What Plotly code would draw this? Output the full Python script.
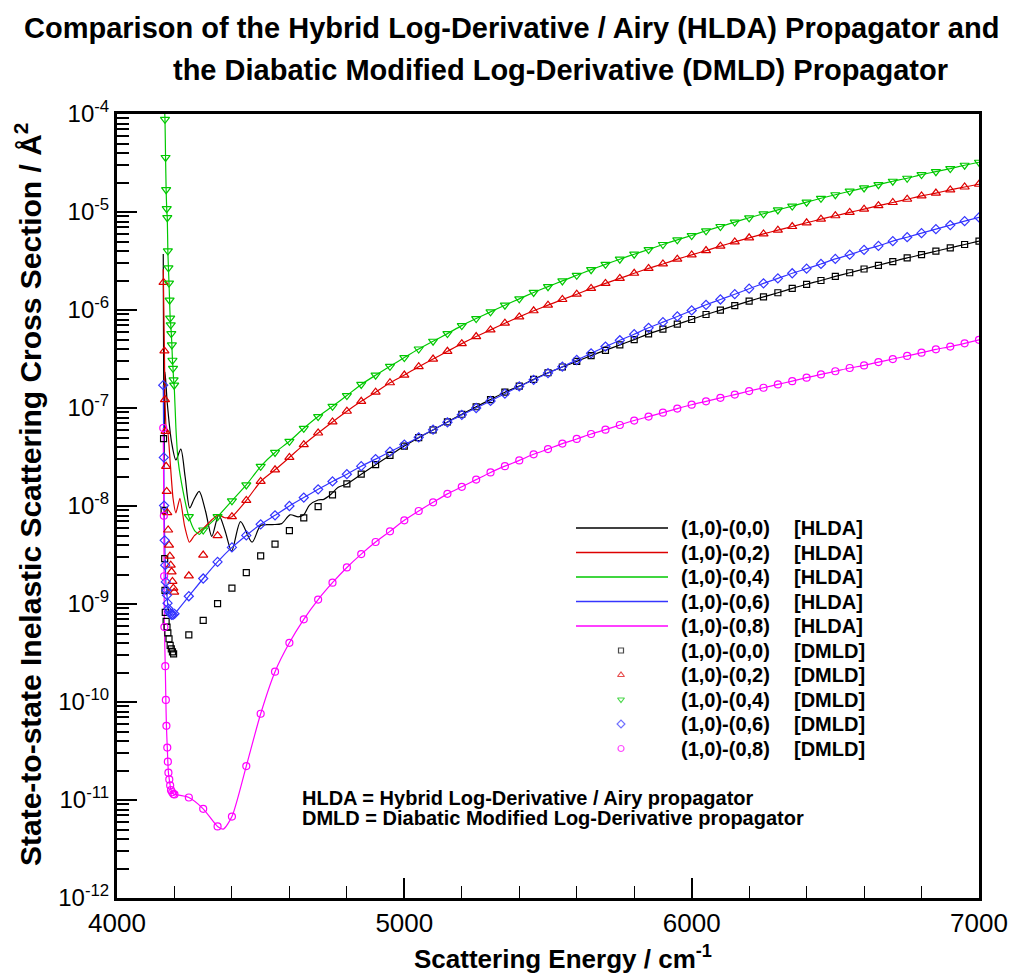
import plotly.graph_objects as go

# ---------------------------------------------------------------
# Cross sections (Angstrom^2) versus scattering energy (cm^-1)
# ---------------------------------------------------------------
# Regular DMLD energy grid, 4250 ... 7000 cm^-1 in 50 cm^-1 steps
E_GRID = list(range(4250, 7001, 50))

# (1,0)-(0,0)
E_NEAR_00 = [4162, 4164, 4166, 4167, 4168, 4171, 4174, 4177, 4181, 4185, 4189, 4193, 4197]
DMLD_NEAR_00 = [4.86e-8, 9.02e-9, 2.91e-9, 1.38e-9, 8.22e-10, 6.65e-10, 5.81e-10, 5.08e-10,
                4.42e-10, 3.78e-10, 3.48e-10, 3.24e-10, 3.10e-10]
DMLD_00 = [4.84e-10, 6.81e-10, 1.01e-9, 1.45e-9, 2.09e-9, 3.10e-9, 4.09e-9, 5.60e-9, 7.55e-9,
           9.86e-9, 1.30e-8, 1.68e-8, 2.11e-8, 2.64e-8, 3.28e-8,
           4.09e-8, 4.98e-8, 5.97e-8, 7.21e-8, 8.63e-8, 1.03e-7, 1.22e-7, 1.45e-7, 1.67e-7, 1.96e-7,
           2.29e-7, 2.62e-7, 2.99e-7, 3.42e-7, 3.88e-7, 4.40e-7, 4.99e-7, 5.70e-7, 6.37e-7, 7.16e-7,
           8.00e-7, 9.00e-7, 9.98e-7, 1.11e-6, 1.23e-6, 1.36e-6, 1.50e-6, 1.66e-6, 1.83e-6, 2.00e-6,
           2.20e-6, 2.40e-6, 2.62e-6, 2.86e-6, 3.12e-6, 3.40e-6, 3.67e-6, 3.98e-6, 4.31e-6, 4.66e-6,
           5.04e-6]
E_HLDA_00 = [4161, 4164, 4167, 4175, 4190, 4205, 4222, 4237, 4253, 4268, 4286, 4308, 4330, 4354,
             4376, 4399, 4430, 4470, 4500, 4540, 4573, 4602, 4631, 4650, 4670, 4700, 4720, 4745, 4770]
HLDA_00 = [3.72e-6, 2.5e-8, 2.34e-7, 1.12e-7, 4.47e-8, 2.95e-8, 3.80e-8, 2.0e-8, 9.55e-9, 1.17e-8,
           1.41e-8, 8.9e-9, 4.9e-9, 8.13e-9, 5.6e-9, 3.47e-9, 6.92e-9, 4.27e-9, 6.31e-9, 6.46e-9,
           6.61e-9, 8.13e-9, 7.76e-9, 8.13e-9, 1.02e-8, 1.15e-8, 1.17e-8, 1.32e-8, 1.55e-8]

# (1,0)-(0,2)
E_NEAR_02 = [4162, 4165, 4167, 4169, 4171, 4173, 4175, 4178, 4181, 4184, 4187, 4190, 4193, 4196, 4199]
DMLD_NEAR_02 = [1.91e-6, 3.82e-7, 1.22e-7, 5.78e-8, 2.54e-8, 1.41e-8, 8.55e-9, 5.69e-9, 3.99e-9,
                3.08e-9, 2.49e-9, 2.13e-9, 1.70e-9, 1.45e-9, 1.32e-9]
DMLD_02 = [1.94e-9, 3.16e-9, 4.98e-9, 7.78e-9, 1.14e-8, 1.78e-8, 2.34e-8, 3.13e-8, 4.23e-8,
           5.56e-8, 7.21e-8, 9.27e-8, 1.17e-7, 1.45e-7, 1.81e-7,
           2.17e-7, 2.64e-7, 3.16e-7, 3.79e-7, 4.54e-7, 5.36e-7, 6.27e-7, 7.33e-7, 8.51e-7, 9.82e-7,
           1.12e-6, 1.28e-6, 1.45e-6, 1.66e-6, 1.87e-6, 2.10e-6, 2.37e-6, 2.66e-6, 2.95e-6, 3.30e-6,
           3.65e-6, 4.04e-6, 4.48e-6, 4.95e-6, 5.45e-6, 5.98e-6, 6.53e-6, 7.11e-6, 7.76e-6, 8.45e-6,
           9.16e-6, 9.91e-6, 1.07e-5, 1.16e-5, 1.25e-5, 1.35e-5, 1.46e-5, 1.56e-5, 1.68e-5, 1.80e-5,
           1.92e-5]
E_HLDA_02 = [4161, 4165, 4167, 4169, 4172, 4176, 4185, 4195, 4205, 4219, 4235, 4252, 4270, 4300,
             4330, 4352, 4375]
HLDA_02 = [2.6e-6, 3.82e-7, 1.22e-7, 7.94e-8, 5.62e-8, 6.03e-8, 2.82e-8, 1.20e-8, 8.51e-9, 1.20e-8,
           6.31e-9, 4.27e-9, 5.01e-9, 5.89e-9, 7.24e-9, 8.13e-9, 7.59e-9]

# (1,0)-(0,4)
E_NEAR_04 = [4167, 4169, 4171, 4173, 4175, 4177, 4179, 4181, 4183, 4185, 4187, 4189, 4191, 4193,
             4195, 4197, 4199]
DMLD_NEAR_04 = [8.83e-5, 3.60e-5, 1.69e-5, 1.08e-5, 8.75e-6, 4.01e-6, 2.69e-6, 1.88e-6, 1.26e-6,
                8.26e-7, 7.05e-7, 5.74e-7, 4.40e-7, 3.07e-7, 2.54e-7, 1.94e-7, 1.71e-7]
DMLD_04 = [7.78e-9, 5.69e-9, 7.78e-9, 1.13e-8, 1.64e-8, 2.54e-8, 3.52e-8, 4.57e-8, 6.21e-8,
           8.18e-8, 1.04e-7, 1.34e-7, 1.74e-7, 2.16e-7, 2.66e-7,
           3.27e-7, 4.00e-7, 4.80e-7, 5.74e-7, 6.93e-7, 8.18e-7, 9.57e-7, 1.12e-6, 1.30e-6, 1.51e-6,
           1.73e-6, 1.98e-6, 2.26e-6, 2.58e-6, 2.92e-6, 3.30e-6, 3.71e-6, 4.14e-6, 4.66e-6, 5.20e-6,
           5.75e-6, 6.43e-6, 7.11e-6, 7.89e-6, 8.73e-6, 9.59e-6, 1.05e-5, 1.15e-5, 1.26e-5, 1.38e-5,
           1.50e-5, 1.63e-5, 1.76e-5, 1.90e-5, 2.06e-5, 2.21e-5, 2.41e-5, 2.58e-5, 2.77e-5, 3.00e-5,
           3.22e-5]
E_HLDA_04 = [4165, 4205, 4213, 4230, 4270, 4287]
HLDA_04 = [1.2e-4, 6.3e-8, 2.85e-8, 1.41e-8, 5.62e-9, 5.13e-9]

# (1,0)-(0,6)
E_NEAR_06 = [4161, 4163, 4164, 4166, 4168, 4170, 4172, 4174, 4176, 4179, 4182, 4186, 4190, 4195, 4200]
DMLD_NEAR_06 = [1.71e-7, 3.13e-8, 1.01e-8, 4.46e-9, 2.49e-9, 1.68e-9, 1.38e-9, 1.23e-9, 1.02e-9,
                8.95e-10, 8.32e-10, 7.94e-10, 7.76e-10, 7.76e-10, 7.94e-10]
DMLD_06 = [1.20e-9, 1.82e-9, 2.69e-9, 3.78e-9, 5.01e-9, 6.50e-9, 8.04e-9, 1.00e-8, 1.22e-8,
           1.48e-8, 1.78e-8, 2.11e-8, 2.55e-8, 3.01e-8, 3.58e-8,
           4.23e-8, 5.02e-8, 6.01e-8, 7.14e-8, 8.51e-8, 1.00e-7, 1.18e-7, 1.40e-7, 1.66e-7, 1.94e-7,
           2.27e-7, 2.64e-7, 3.09e-7, 3.61e-7, 4.23e-7, 4.91e-7, 5.66e-7, 6.58e-7, 7.52e-7, 8.59e-7,
           9.89e-7, 1.13e-6, 1.28e-6, 1.45e-6, 1.65e-6, 1.87e-6, 2.10e-6, 2.37e-6, 2.64e-6, 2.95e-6,
           3.32e-6, 3.67e-6, 4.10e-6, 4.51e-6, 5.04e-6, 5.53e-6, 6.08e-6, 6.68e-6, 7.35e-6, 8.07e-6,
           8.81e-6]
E_HLDA_06 = []
HLDA_06 = []

# (1,0)-(0,8)
E_NEAR_08 = [4161, 4163, 4164, 4165, 4168, 4170, 4172, 4175, 4177, 4179, 4182, 4185, 4188, 4192,
             4196, 4200]
DMLD_NEAR_08 = [6.25e-8, 7.94e-9, 1.92e-9, 5.81e-10, 2.32e-10, 1.05e-10, 5.71e-11, 3.43e-11,
                2.46e-11, 1.90e-11, 1.62e-11, 1.41e-11, 1.26e-11, 1.20e-11, 1.15e-11, 1.14e-11]
DMLD_08 = [1.06e-11, 8.13e-12, 5.37e-12, 6.78e-12, 2.22e-11, 7.59e-11, 2.04e-10, 4.02e-10, 6.97e-10,
           1.11e-9, 1.65e-9, 2.36e-9, 3.23e-9, 4.29e-9, 5.51e-9,
           7.14e-9, 8.89e-9, 1.09e-8, 1.33e-8, 1.57e-8, 1.86e-8, 2.20e-8, 2.55e-8, 2.92e-8, 3.37e-8,
           3.81e-8, 4.33e-8, 4.83e-8, 5.43e-8, 6.01e-8, 6.71e-8, 7.45e-8, 8.17e-8, 8.97e-8, 9.86e-8,
           1.08e-7, 1.17e-7, 1.27e-7, 1.37e-7, 1.49e-7, 1.61e-7, 1.74e-7, 1.88e-7, 2.04e-7, 2.20e-7,
           2.37e-7, 2.56e-7, 2.72e-7, 2.94e-7, 3.16e-7, 3.40e-7, 3.67e-7, 3.97e-7, 4.23e-7, 4.57e-7,
           4.96e-7]
E_HLDA_08 = [4370]
HLDA_08 = [5.05e-12]

LABELS = ["(1,0)-(0,0)", "(1,0)-(0,2)", "(1,0)-(0,4)", "(1,0)-(0,6)", "(1,0)-(0,8)"]
COLORS = ["#000000", "#dd0000", "#00c800", "#3535ff", "#ff00ff"]
SYMBOLS = ["square-open", "triangle-up-open", "triangle-down-open", "diamond-open", "circle-open"]
SIZES = [6, 8, 8, 7, 7]
SMOOTH = [0.8, 0.5, 0.5, 0.5, 0.7]


def combine(*parts):
    pts = sorted(p for es, ss in parts for p in zip(es, ss))
    return [p[0] for p in pts], [p[1] for p in pts]


def grid_from(values, e_start):
    i = E_GRID.index(e_start)
    return E_GRID[i:], values[i:]


# HLDA curves: own low-energy values, joined to the common curve above
hlda = [
    combine((E_HLDA_00, HLDA_00), grid_from(DMLD_00, 4800)),
    combine((E_HLDA_02, HLDA_02), grid_from(DMLD_02, 4400)),
    combine((E_HLDA_04, HLDA_04), (E_NEAR_04, DMLD_NEAR_04), (E_GRID, DMLD_04)),
    combine((E_HLDA_06, HLDA_06), (E_NEAR_06, DMLD_NEAR_06), (E_GRID, DMLD_06)),
    combine((E_HLDA_08, HLDA_08), (E_NEAR_08, DMLD_NEAR_08), (E_GRID, DMLD_08)),
]
dmld = [
    combine((E_NEAR_00, DMLD_NEAR_00), (E_GRID, DMLD_00)),
    combine((E_NEAR_02, DMLD_NEAR_02), (E_GRID, DMLD_02)),
    combine((E_NEAR_04, DMLD_NEAR_04), (E_GRID, DMLD_04)),
    combine((E_NEAR_06, DMLD_NEAR_06), (E_GRID, DMLD_06)),
    combine((E_NEAR_08, DMLD_NEAR_08), (E_GRID, DMLD_08)),
]

# ---------------------------------------------------------------
# Page geometry
# ---------------------------------------------------------------
W, H = 1019, 973
ML, MR, MT, MB = 117, 40, 114, 75
PW, PH = W - ML - MR, H - MT - MB


def xp(px):
    return (px - ML) / PW


def yp(py):
    return (H - MB - py) / PH


SANS = "Liberation Sans, Arial, sans-serif"

fig = go.Figure()

for (ex, sy), col, sm in zip(hlda, COLORS, SMOOTH):
    fig.add_trace(go.Scatter(
        x=ex, y=sy, mode="lines", showlegend=False, hoverinfo="skip",
        line=dict(color=col, width=1.2, shape="spline", smoothing=sm)))

for (ex, sy), col, sym, sz in zip(dmld, COLORS, SYMBOLS, SIZES):
    fig.add_trace(go.Scatter(
        x=ex, y=sy, mode="markers", showlegend=False,
        marker=dict(symbol=sym, size=sz, color=col, line=dict(width=1.2, color=col))))

# ---------------------------------------------------------------
# Hand-built legend (long line samples, two text columns)
# ---------------------------------------------------------------
ROW0, DROW = 528, 24.5
LINE_X0, LINE_X1, SYM_X = 576, 668, 621
TXT1_X, TXT2_X = 679, 792
shapes = []
annotations = []
sym_x, sym_y = [], []
for k in range(10):
    row_y = yp(ROW0 + DROW * k)
    j = k % 5
    if k < 5:
        shapes.append(dict(type="line", xref="paper", yref="paper",
                           x0=xp(LINE_X0), x1=xp(LINE_X1), y0=row_y, y1=row_y,
                           line=dict(color=COLORS[j], width=1.5)))
        tag = "[HLDA]"
    else:
        sym_x.append(xp(SYM_X))
        sym_y.append(row_y)
        tag = "[DMLD]"
    annotations.append(dict(x=xp(TXT1_X), y=row_y, xref="paper", yref="paper",
                            text="<b>%s</b>" % LABELS[j], showarrow=False,
                            xanchor="left", yanchor="middle",
                            font=dict(family=SANS, size=20, color="black")))
    annotations.append(dict(x=xp(TXT2_X), y=row_y, xref="paper", yref="paper",
                            text="<b>%s</b>" % tag, showarrow=False,
                            xanchor="left", yanchor="middle",
                            font=dict(family=SANS, size=20, color="black")))

fig.add_trace(go.Scatter(
    x=sym_x, y=sym_y, xaxis="x2", yaxis="y2", mode="markers", showlegend=False,
    hoverinfo="skip",
    marker=dict(symbol=SYMBOLS, size=[5, 6, 6, 6, 6], color=COLORS,
                line=dict(width=1.2, color=COLORS))))

# Titles and notes
annotations += [
    dict(x=xp(511), y=yp(28), text="<b>Comparison of the Hybrid Log-Derivative / Airy (HLDA) Propagator and</b>",
         font=dict(family=SANS, size=29, color="black")),
    dict(x=xp(560), y=yp(70), text="<b>the Diabatic Modified Log-Derivative (DMLD) Propagator</b>",
         font=dict(family=SANS, size=29, color="black")),
    dict(x=xp(563), y=yp(958), text="<b>Scattering Energy / cm<sup>-1</sup></b>",
         font=dict(family=SANS, size=26, color="black")),
    dict(x=xp(28), y=yp(494), text="<b>State-to-state Inelastic Scattering Cross Section / Å<sup>2</sup></b>",
         textangle=-90, font=dict(family=SANS, size=30, color="black")),
]
for a in annotations[-4:]:
    a.update(xref="paper", yref="paper", showarrow=False, xanchor="center", yanchor="middle")

annotations += [
    dict(x=xp(300), y=yp(798), text="<b>HLDA = Hybrid Log-Derivative / Airy propagator</b>"),
    dict(x=xp(300), y=yp(818), text="<b>DMLD = Diabatic Modified Log-Derivative propagator</b>"),
]
for a in annotations[-2:]:
    a.update(xref="paper", yref="paper", showarrow=False, xanchor="left", yanchor="middle",
             font=dict(family=SANS, size=20, color="black"))

DECADES = list(range(-12, -3))
Y_TICKS = [10.0 ** d for d in DECADES]
Y_TEXT = ["10<sup>%d</sup>" % d for d in DECADES]
Y_MINOR = [m * 10.0 ** d for d in DECADES[:-1] for m in range(2, 10)]

fig.update_layout(
    width=W, height=H,
    margin=dict(l=ML, r=MR, t=MT, b=MB),
    paper_bgcolor="white", plot_bgcolor="white",
    showlegend=False,
    shapes=shapes,
    annotations=annotations,
    xaxis=dict(range=[4000, 7000], tickmode="linear", tick0=4000, dtick=1000,
               ticks="inside", ticklen=20, tickwidth=1.5, tickcolor="black",
               minor=dict(tickmode="linear", tick0=4000, dtick=200, ticks="inside",
                          ticklen=12, tickwidth=1, tickcolor="black", showgrid=False),
               showline=True, mirror=True, linewidth=3, linecolor="black",
               showgrid=False, zeroline=False,
               tickfont=dict(family=SANS, size=26, color="black")),
    yaxis=dict(type="log", range=[-12, -4], tickmode="array", tickvals=Y_TICKS, ticktext=Y_TEXT,
               ticks="inside", ticklen=20, tickwidth=2, tickcolor="black",
               minor=dict(tickmode="array", tickvals=Y_MINOR, ticks="inside", ticklen=12,
                          tickwidth=1.5, tickcolor="black", showgrid=False),
               showline=True, mirror=True, linewidth=3, linecolor="black",
               showgrid=False, zeroline=False,
               tickfont=dict(family=SANS, size=24, color="black")),
    xaxis2=dict(overlaying="x", anchor="y2", range=[0, 1], visible=False),
    yaxis2=dict(overlaying="y", anchor="x2", range=[0, 1], visible=False),
)

fig.write_html("out.html")
